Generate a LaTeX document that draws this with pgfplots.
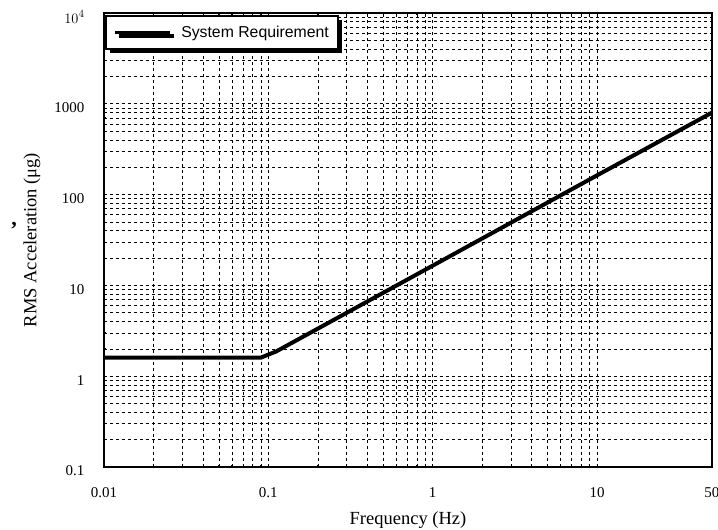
\documentclass[border=0pt]{standalone}
\usepackage{fontspec}
\setmainfont{Liberation Serif}
\newfontfamily\legendfont{Liberation Sans}
\usepackage{pgfplots}
\pgfplotsset{compat=1.18}
\usetikzlibrary{shadows}
\begin{document}
\begin{tikzpicture}
\useasboundingbox (-104bp,-63bp) rectangle (614bp,467bp);
\begin{axis}[
  at={(0,0)}, anchor=south west,
  scale only axis, width=608bp, height=454bp,
  xmode=log, ymode=log,
  xmin=0.01, xmax=50, ymin=0.1, ymax=10000,
  xtick={0.01,0.1,1,10}, xticklabels={0.01,0.1,1,10},
  extra x ticks={50}, extra x tick labels={50},
  extra x tick style={grid=none},
  ytick={0.1,1,10,100,1000,10000},
  yticklabels={0.1,1,10,100,1000,{$10^4$}},
  /pgf/number format/assume math mode=true,
  tick label style={font=\fontsize{15bp}{17bp}\selectfont},
  yticklabel style={xshift=-16bp, yshift=-4bp},
  xticklabel style={yshift=-17bp},
  grid=both,
  major grid style={black, line width=0.6bp, dash pattern=on 3bp off 3bp},
  minor grid style={black, line width=0.6bp, dash pattern=on 3bp off 3bp},
  major tick length=3bp, minor tick length=2bp,
  tick style={black, line width=0.8bp},
  axis line style={line width=1.6bp},
  xlabel={Frequency (Hz)},
  ylabel={RMS Acceleration (μg)},
  label style={font=\fontsize{18.5bp}{20bp}\selectfont},
  xlabel style={at={(rel axis cs:0.5,0)}, anchor=center, yshift=-53bp},
  ylabel style={at={(rel axis cs:0,0.5)}, anchor=center, yshift=72bp},
  legend style={at={(rel axis cs:0.0016,0.9956)}, anchor=north west,
    draw=black, line width=1.6bp, fill=white,
    drop shadow={shadow xshift=4bp, shadow yshift=-4bp, opacity=1, fill=black},
    font=\legendfont\fontsize{15.8bp}{18bp}\selectfont,
    inner xsep=7bp, inner ysep=8bp,
    /tikz/every odd column/.append style={column sep=8bp}},
  legend image code/.code={\draw[black, line width=3.5bp, line cap=butt] (0bp,0bp) -- (55bp,0bp);},
  clip=false,
]
\addplot[black, line width=4bp, line join=round] coordinates {
  (0.01,1.6) (0.09,1.6) (0.112,1.88) (1,16.5) (10,163) (50,800)
};
\addlegendentry{System Requirement}
\node[font=\bfseries\fontsize{22bp}{22bp}\selectfont] at (rel axis cs:-0.148,0.532) {,};
\end{axis}
\end{tikzpicture}
\end{document}
